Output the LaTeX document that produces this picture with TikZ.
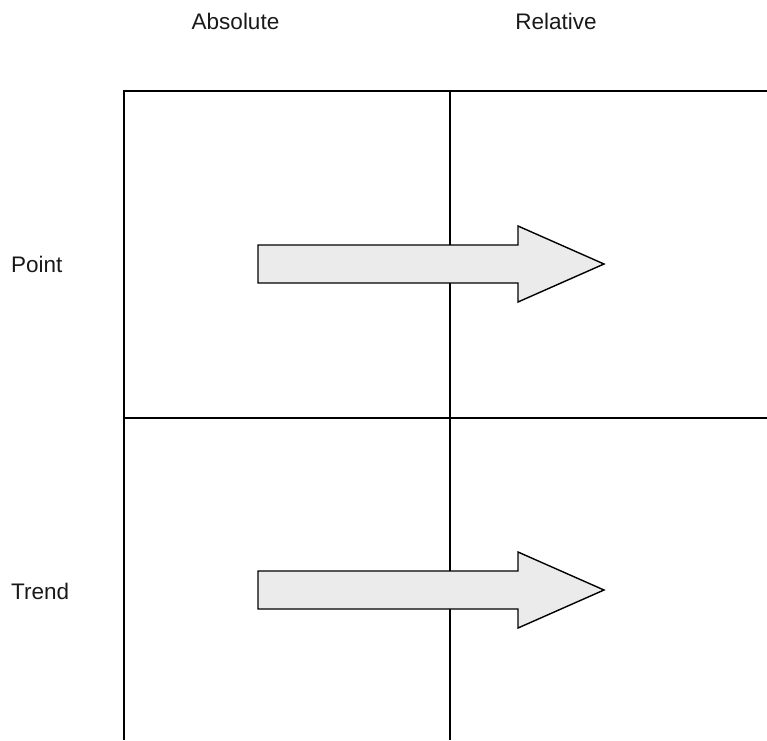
\documentclass[tikz,border=0pt]{standalone}
\usepackage{fontspec}
\setmainfont{Liberation Sans}
\begin{document}
\begin{tikzpicture}[x=1pt,y=-1pt,
  gridline/.style={line width=1.6pt,black},
  bigarrow/.style={draw=black,line width=1.4pt,fill=black!8,line join=miter},
  lbl/.style={font=\fontsize{22.5}{26}\selectfont,text=black!90,inner sep=0pt,anchor=base}]
\useasboundingbox (0,0) rectangle (767,740);
% grid
\draw[gridline] (767,91) -- (124,91) -- (124,740);
\draw[gridline] (450,91) -- (450,740);
\draw[gridline] (124,418) -- (767,418);
% labels
\node[lbl] (abs) at (235.5,29) {Absolute};
\node[lbl] (rel) at (556,29) {Relative};
\node[lbl,anchor=base west] (point) at (11,272) {Point};
\node[lbl,anchor=base west] (trend) at (11,599) {Trend};
% arrows
\foreach \c/\n in {264/a1,590/a2}{
  \draw[bigarrow] (258,\c-19) -- (518,\c-19) -- (518,\c-38) -- (604,\c) -- (518,\c+38) -- (518,\c+19) -- (258,\c+19) -- cycle;
}
\end{tikzpicture}
\end{document}
